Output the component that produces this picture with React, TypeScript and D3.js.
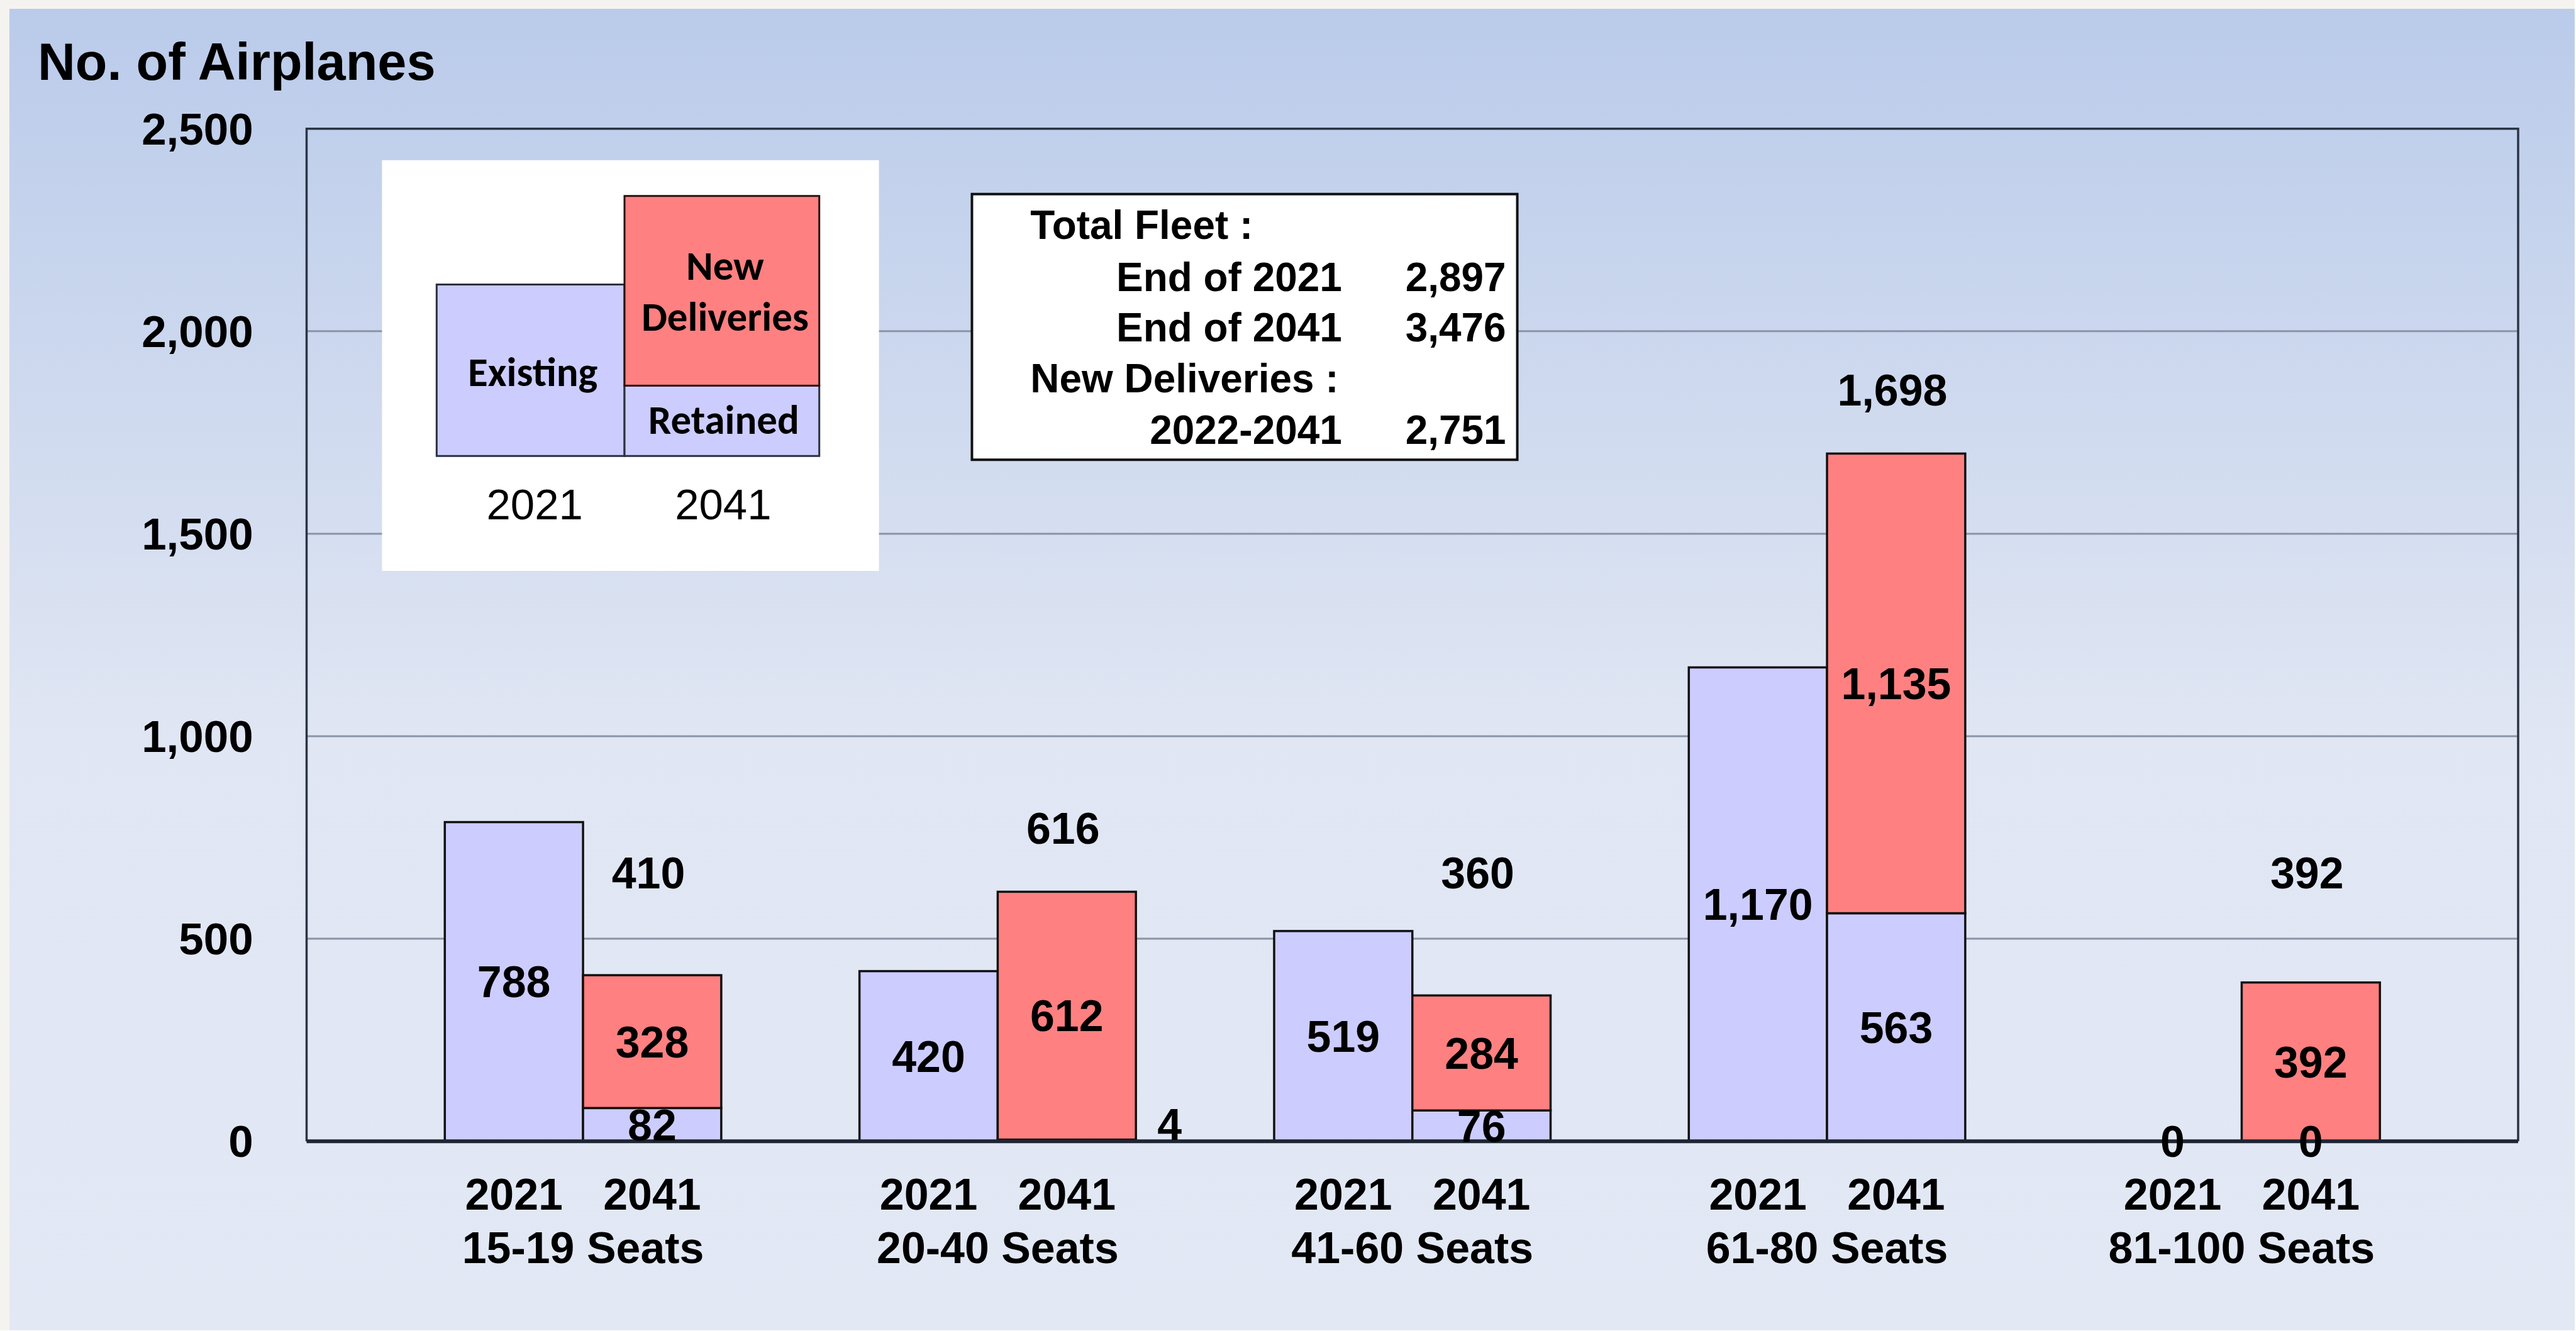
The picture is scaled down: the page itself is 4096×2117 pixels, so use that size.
import React, { useRef, useEffect } from 'react';
import * as d3 from 'd3';

// chart data
const seatClasses = ['15-19 Seats', '20-40 Seats', '41-60 Seats', '61-80 Seats', '81-100 Seats'];
const years = ['2021', '2041'];
const existing2021 = [788, 420, 519, 1170, 0];
const retained2041 = [82, 4, 76, 563, 0];
const newDeliveries2041 = [328, 612, 284, 1135, 392];
const yTicks = [0, 500, 1000, 1500, 2000, 2500];

// summary box
const summaryHeads = ['Total Fleet :', 'New Deliveries :'];
const summaryRows = [
  ['End of 2021', '2,897'],
  ['End of 2041', '3,476'],
  ['2022-2041', '2,751'],
];

const W = 4098;
const H = 2118;
const ARIAL = "'Liberation Sans', Arial, Helvetica, sans-serif";
const CALIBRI = "Carlito, Lato, 'Open Sans', sans-serif";
const LAVENDER = '#CCCCFF';
const SALMON = '#FF8080';

const App = () => {
  const ref = useRef(null);

  useEffect(() => {
    document.body.style.margin = '0';
    if (!ref.current) return;
    const svg = d3.select(ref.current);
    svg.selectAll('*').remove();

    const margin = { top: 205, right: 90, bottom: 301, left: 488 };
    const x0 = d3.scaleBand()
      .domain(seatClasses)
      .range([margin.left, W - margin.right])
      .paddingInner(1 / 3)
      .paddingOuter(1 / 3);
    const x1 = d3.scaleBand().domain(years).range([0, x0.bandwidth()]);
    const y = d3.scaleLinear().domain([0, 2500]).range([H - margin.bottom, margin.top]);
    const fmt = d3.format(',');

    // background
    const grad = svg.append('defs').append('linearGradient')
      .attr('id', 'bg').attr('x1', 0).attr('y1', 0).attr('x2', 0).attr('y2', 1);
    grad.append('stop').attr('offset', 0).attr('stop-color', '#BACBEA');
    grad.append('stop').attr('offset', 0.55).attr('stop-color', '#E0E6F3');
    grad.append('stop').attr('offset', 1).attr('stop-color', '#E2E8F4');
    svg.append('rect').attr('width', W).attr('height', H).attr('fill', '#F4F3F0');
    svg.append('rect').attr('x', 15).attr('y', 14).attr('width', W - 15).attr('height', H - 14)
      .attr('fill', 'url(#bg)');

    // title
    svg.append('text')
      .attr('x', 60).attr('y', 127)
      .attr('font-family', ARIAL).attr('font-weight', 'bold').attr('font-size', 83)
      .attr('fill', '#000')
      .text('No. of Airplanes');

    // gridlines
    svg.append('g').selectAll('line')
      .data(yTicks.filter(d => d > 0 && d < 2500))
      .enter().append('line')
      .attr('x1', margin.left).attr('x2', W - margin.right)
      .attr('y1', d => y(d)).attr('y2', d => y(d))
      .attr('stroke', '#8A94A6').attr('stroke-width', 3);

    // y tick labels
    svg.append('g').selectAll('text')
      .data(yTicks)
      .enter().append('text')
      .attr('x', 403).attr('y', d => y(d) + 25)
      .attr('text-anchor', 'end')
      .attr('font-family', ARIAL).attr('font-weight', 'bold').attr('font-size', 71)
      .text(d => fmt(d));

    // legend box
    const lg = svg.append('g');
    lg.append('rect').attr('x', 608).attr('y', 255).attr('width', 791).attr('height', 654).attr('fill', '#fff');
    lg.append('rect').attr('x', 695).attr('y', 453).attr('width', 299).attr('height', 273)
      .attr('fill', LAVENDER).attr('stroke', '#2A3040').attr('stroke-width', 3);
    lg.append('rect').attr('x', 994).attr('y', 614).attr('width', 310).attr('height', 112)
      .attr('fill', LAVENDER).attr('stroke', '#2A3040').attr('stroke-width', 3);
    lg.append('rect').attr('x', 994).attr('y', 312).attr('width', 310).attr('height', 302)
      .attr('fill', SALMON).attr('stroke', '#2A1010').attr('stroke-width', 3);
    const legendText = [
      ['Existing', 848, 615],
      ['New', 1154, 445],
      ['Deliveries', 1154, 527],
      ['Retained', 1152, 691],
    ];
    lg.selectAll('text.lt').data(legendText).enter().append('text')
      .attr('class', 'lt')
      .attr('x', d => d[1]).attr('y', d => d[2])
      .attr('text-anchor', 'middle')
      .attr('font-family', CALIBRI).attr('font-weight', 'bold').attr('font-size', 65)
      .text(d => d[0]);
    lg.selectAll('text.ly').data(years).enter().append('text')
      .attr('class', 'ly')
      .attr('x', (d, i) => 851 + i * 300).attr('y', 827)
      .attr('text-anchor', 'middle')
      .attr('font-family', ARIAL).attr('font-size', 69)
      .text(d => d);

    // summary box
    const sb = svg.append('g');
    sb.append('rect').attr('x', 1547).attr('y', 309).attr('width', 868).attr('height', 423)
      .attr('fill', '#fff').attr('stroke', '#111').attr('stroke-width', 4);
    const sbFont = (s) => s.attr('font-family', ARIAL).attr('font-weight', 'bold').attr('font-size', 64);
    const headY = [380, 625];
    sb.selectAll('text.h').data(summaryHeads).enter().append('text')
      .attr('class', 'h')
      .attr('x', 1640).attr('y', (d, i) => headY[i])
      .call(sbFont)
      .text(d => d);
    const rowY = [463, 544, 707];
    sb.selectAll('text.l').data(summaryRows).enter().append('text')
      .attr('class', 'l')
      .attr('x', 2136).attr('y', (d, i) => rowY[i])
      .attr('text-anchor', 'end')
      .call(sbFont)
      .text(d => d[0]);
    sb.selectAll('text.v').data(summaryRows).enter().append('text')
      .attr('class', 'v')
      .attr('x', 2397).attr('y', (d, i) => rowY[i])
      .attr('text-anchor', 'end')
      .call(sbFont)
      .text(d => d[1]);

    // bars
    const segments = [];
    seatClasses.forEach((c, i) => {
      segments.push({ c, year: '2021', lo: 0, hi: existing2021[i], fill: LAVENDER, v: existing2021[i] });
      segments.push({ c, year: '2041', lo: 0, hi: retained2041[i], fill: LAVENDER, v: retained2041[i] });
      segments.push({
        c, year: '2041', lo: retained2041[i], hi: retained2041[i] + newDeliveries2041[i],
        fill: SALMON, v: newDeliveries2041[i],
      });
    });
    const bx = (d) => x0(d.c) + x1(d.year);
    svg.append('g').selectAll('rect')
      .data(segments)
      .enter().append('rect')
      .attr('x', bx)
      .attr('y', d => y(d.hi))
      .attr('width', x1.bandwidth())
      .attr('height', d => y(d.lo) - y(d.hi))
      .attr('fill', d => d.fill)
      .attr('stroke', '#111')
      .attr('stroke-width', 3.5);

    // frame
    const frame = svg.append('g').attr('fill', 'none');
    frame.append('path')
      .attr('d', `M${margin.left},${y(0)}V${margin.top}H${W - margin.right}V${y(0)}`)
      .attr('stroke', '#2A3444').attr('stroke-width', 3.5);
    frame.append('line')
      .attr('x1', margin.left).attr('x2', W - margin.right)
      .attr('y1', y(0)).attr('y2', y(0))
      .attr('stroke', '#1E2533').attr('stroke-width', 6);

    // segment labels
    const valFont = (s) => s.attr('font-family', ARIAL).attr('font-weight', 'bold').attr('font-size', 70);
    const small = (d) => d.v > 0 && d.v < 20;
    svg.append('g').selectAll('text')
      .data(segments)
      .enter().append('text')
      .attr('x', d => small(d) ? bx(d) + x1.bandwidth() + 34 : bx(d) + x1.bandwidth() / 2)
      .attr('y', d => small(d) ? y(0) - 2 : (y(d.lo) + y(d.hi)) / 2 + 25)
      .attr('text-anchor', d => small(d) ? 'start' : 'middle')
      .call(valFont)
      .text(d => fmt(d.v));

    // 2041 totals
    svg.append('g').selectAll('text')
      .data(seatClasses)
      .enter().append('text')
      .attr('x', c => x0(c) + x1('2041') + x1.bandwidth() / 2 - 6)
      .attr('y', (c, i) => Math.min(y(retained2041[i] + newDeliveries2041[i]) - 76, y(625)))
      .attr('text-anchor', 'middle')
      .call(valFont)
      .text((c, i) => fmt(retained2041[i] + newDeliveries2041[i]));

    // category labels
    const xl = svg.append('g').call(valFont).attr('text-anchor', 'middle');
    seatClasses.forEach(c => {
      years.forEach(yr => {
        xl.append('text')
          .attr('x', x0(c) + x1(yr) + x1.bandwidth() / 2)
          .attr('y', 1926)
          .text(yr);
      });
      xl.append('text')
        .attr('x', x0(c) + x0.bandwidth() / 2)
        .attr('y', 2011)
        .text(c);
    });
  }, []);

  return (
    <svg
      ref={ref}
      width={W * 0.999}
      height={H * 0.999}
      viewBox={`0 0 ${W} ${H}`}
      style={{ display: 'block', position: 'absolute', left: 0, top: 0 }}
    />
  );
};

export default App;
